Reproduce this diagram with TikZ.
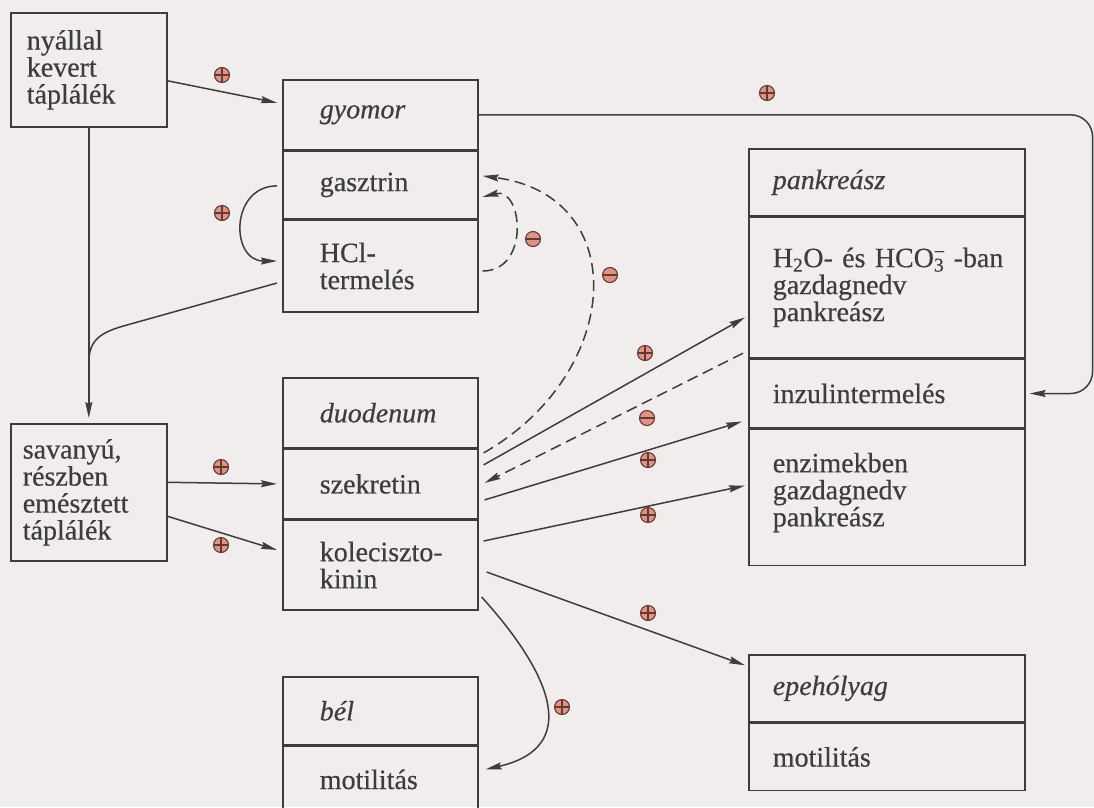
\documentclass[tikz,border=0pt]{standalone}
\usepackage{fontspec}
\setmainfont[FakeBold=0.45]{Liberation Serif}
\usetikzlibrary{arrows.meta,positioning,calc}
\definecolor{paper}{RGB}{241,237,236}
\definecolor{ink}{RGB}{62,60,62}
\definecolor{signfill}{RGB}{226,146,126}
\definecolor{signline}{RGB}{96,58,54}
\newcommand{\boxfont}{\fontsize{28}{27}\selectfont}

\begin{document}
\begin{tikzpicture}[x=1pt, y=-1pt,
    cell/.style={rectangle, draw=ink, line width=1.6pt, align=left,
        font=\boxfont, text=ink, inner ysep=0pt},
    midcell/.style={cell, text width=121pt, inner xsep=37pt},
    widecell/.style={cell, text width=228pt, inner xsep=24pt},
    arr/.style={-{Stealth[length=16pt,width=7pt,inset=2pt]}, line width=1.5pt, draw=ink},
    dsh/.style={dash pattern=on 11pt off 6pt},
    signbase/.style={circle, draw=signline, fill=signfill, line width=1.1pt,
        minimum size=15pt, inner sep=0pt},
    plussign/.style={signbase, path picture={\draw[signline, line width=1.3pt]
        (path picture bounding box.west) -- (path picture bounding box.east)
        (path picture bounding box.north) -- (path picture bounding box.south);}},
    minussign/.style={signbase, path picture={\draw[signline, line width=1.3pt]
        (path picture bounding box.west) -- (path picture bounding box.east);}}
]
    \useasboundingbox (0,0) rectangle (1094,807);
    \clip (0,0) rectangle (1094,807);
    \fill[paper] (0,0) rectangle (1094,807);

    % input boxes
    \node[cell, text width=124pt, inner xsep=16pt, minimum height=114pt, anchor=north west]
        (nyal) at (10,12) {nyállal\\kevert\\táplálék};
    \node[cell, text width=132pt, inner xsep=12pt, minimum height=137pt, anchor=north west]
        (savanyu) at (10,423) {savanyú,\\részben\\emésztett\\táplálék};

    % gyomor
    \node[midcell, minimum height=70pt, anchor=north west] (gyomor) at (282,79) {\textit{gyomor}};
    \node[midcell, minimum height=67pt, below=0pt of gyomor] (gasztrin) {gasztrin};
    \node[midcell, minimum height=92pt, below=0pt of gasztrin] (hcl) {HCl-\\termelés};

    % duodenum
    \node[midcell, minimum height=70pt, anchor=north west] (duod) at (282,377) {\textit{duodenum}};
    \node[midcell, minimum height=69pt, below=0pt of duod] (szekr) {szekretin};
    \node[midcell, minimum height=90pt, below=0pt of szekr] (kolec) {\mbox{koleciszto-}\\kinin};

    % bel
    \node[midcell, minimum height=68pt, anchor=north west] (bel) at (282,676) {\textit{bél}};
    \node[midcell, minimum height=66pt, below=0pt of bel] (belmot) {motilitás};

    % pankreasz
    \node[widecell, minimum height=67pt, anchor=north west] (pank) at (748,148) {\textit{pankreász}};
    \node[widecell, minimum height=140pt, below=0pt of pank] (bikarb)
        {\mbox{H\textsubscript{2}O- és HCO\rlap{\textsuperscript{−}}\textsubscript{3} -ban}\\gazdagnedv\\pankreász};
    \node[widecell, minimum height=69pt, below=0pt of bikarb] (inzulin) {inzulintermelés};
    \node[widecell, minimum height=136pt, below=0pt of inzulin] (enzim)
        {enzimekben\\gazdagnedv\\pankreász\\[-11pt]\mbox{}};

    % epeholyag
    \node[widecell, minimum height=67pt, anchor=north west] (epe) at (748,654) {\textit{epehólyag}};
    \node[widecell, minimum height=67pt, below=0pt of epe] (epemot) {motilitás};

    % connectors
    \draw[arr] ($(nyal.east)+(0,11)$) -- ($(gyomor.west)+(-5,-12)$);
    \draw[arr] (nyal) -- ($(savanyu.north)+(0,-5)$);
    \coordinate (merge) at ($(nyal.south)!0.8!(savanyu.north)$);
    \draw[line width=1.5pt, draw=ink] ($(hcl.west)+(-5,17)$) -- ++(-150,42)
        .. controls +(-30,8) and +(0,-22) .. (merge);
    \draw[arr] ($(gasztrin.west)+(-5,1)$) .. controls +(-47,0) and +(-47,0) .. ($(hcl.west)+(-5,-5)$);
    \draw[arr, dsh] ($(hcl.east)+(4,5)$) .. controls +(48,0) and +(40,-10) .. ($(gasztrin.east)+(4,12)$);
    \draw[arr, dsh] ($(szekr.east)+(5,-31)$) .. controls +(140,-80) and +(150,20) .. ($(gasztrin.east)+(4,-9)$);
    \draw[arr, dsh] ($(bikarb.south west)+(-5,-5)$) -- ($(szekr.east)+(6,-1)$);
    \draw[arr] ($(szekr.east)+(5,-19)$) -- ($(bikarb.west)+(-3,30)$);
    \draw[arr] ($(szekr.east)+(6,16)$) -- ($(inzulin.west)+(-6,28)$);
    \draw[arr] ($(kolec.east)+(5,-24)$) -- ($(enzim.west)+(-3,-12)$);
    \draw[arr] ($(kolec.east)+(8,7)$) -- ($(epe.west)+(-3,-23)$);
    \draw[arr] ($(kolec.east)+(3,32)$) .. controls +(70,77) and +(96,-22) .. ($(belmot.east)+(7,-10)$);
    \draw[arr, rounded corners=22pt] (gyomor.east) -| ($(inzulin.east)+(67,0)$) -- ($(inzulin.east)+(4,0)$);
    \draw[arr] ($(savanyu.east)+(0,-10)$) -- ($(szekr.west)+(-5,0)$);
    \draw[arr] ($(savanyu.east)+(0,24)$) -- ($(kolec.west)+(-5,-15)$);

    % signs
    \foreach \x/\y [count=\i] in {222/75, 222/213, 767/93, 221/467, 221/545,
        645/353, 648/460, 648/515, 648/613, 562/707}
        \node[plussign] (plus\i) at (\x,\y) {};
    \foreach \x/\y [count=\i] in {533/239, 610/275, 647/418}
        \node[minussign] (minus\i) at (\x,\y) {};
\end{tikzpicture}
\end{document}
